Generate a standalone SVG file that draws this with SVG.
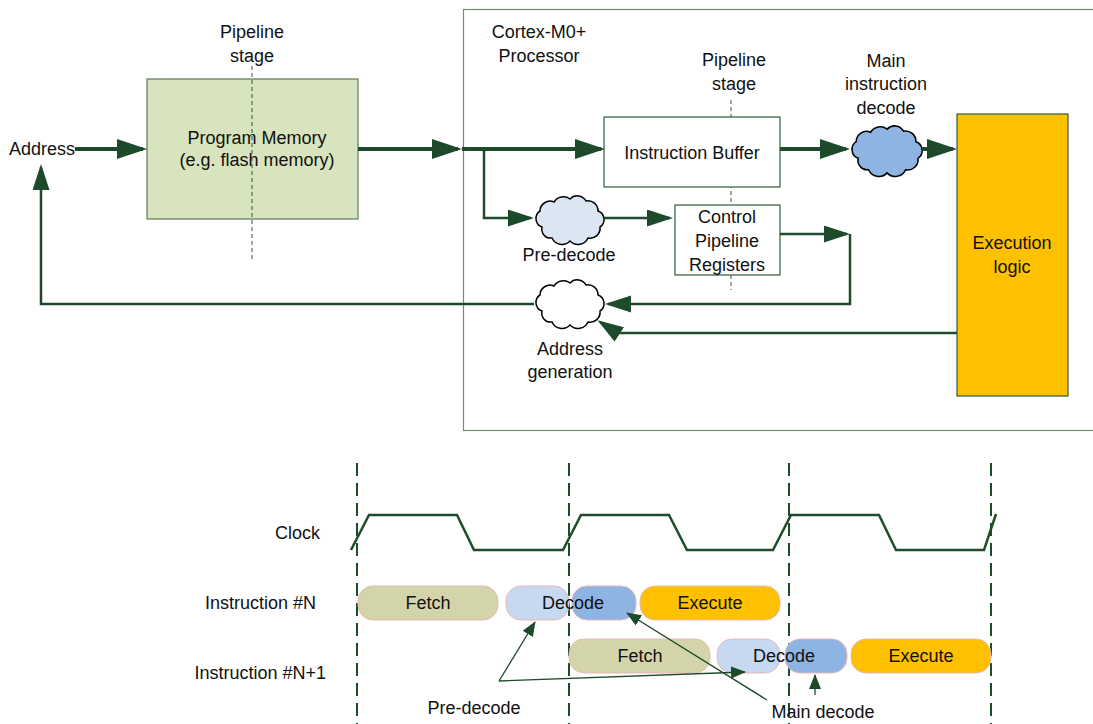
<svg xmlns="http://www.w3.org/2000/svg" width="1093" height="724" viewBox="0 0 1093 724">
<style>
text{font-family:"Liberation Sans",Arial,sans-serif;font-size:18px;fill:#111}
.m{text-anchor:middle}
.e{text-anchor:end}
.thick{stroke:#1c4a2a;stroke-width:4;fill:none}
.med{stroke:#1c4a2a;stroke-width:2.5;fill:none}
.thin{stroke:#1c4a2a;stroke-width:1.3;fill:none}
.dash{stroke:#2b5b3a;stroke-width:1;stroke-dasharray:4 3;fill:none}
.vdash{stroke:#1e4d2b;stroke-width:2;stroke-dasharray:13 7;fill:none}
.box{stroke:#2d5c3a;stroke-width:1.2}
.cloud{stroke:#000;stroke-width:1.5}
.pill{stroke:#e6b9b8;stroke-width:1}
</style>
<defs>
<marker id="big" markerUnits="userSpaceOnUse" markerWidth="32" markerHeight="22" refX="26" refY="10" orient="auto"><path d="M0,0 L30,10 L0,20 Z" fill="#1c4a2a"/></marker>
<marker id="mid" markerUnits="userSpaceOnUse" markerWidth="28" markerHeight="20" refX="23" refY="8.5" orient="auto"><path d="M0,0 L26,8.5 L0,17 Z" fill="#1c4a2a"/></marker>
<marker id="sm" markerUnits="userSpaceOnUse" markerWidth="16" markerHeight="14" refX="14" refY="6" orient="auto"><path d="M0,0 L15,6 L0,12 Z" fill="#1c4a2a"/></marker>
<path id="cloudShape" d="M8,32 A9,9 0 0 1 6,16 A10,10 0 0 1 20,7 A11,11 0 0 1 36,4 A10,10 0 0 1 52,6 A10,10 0 0 1 64,16 A9,9 0 0 1 66,32 A10,10 0 0 1 54,43 A11,11 0 0 1 36,46 A11,11 0 0 1 18,43 A9,9 0 0 1 8,32 Z"/>
</defs>

<g id="cortex-frame"><rect x="463.5" y="9.5" width="640" height="421" fill="none" stroke="#6f8f73" stroke-width="1.2"/>
<text class="m" x="539" y="38">Cortex-M0+</text><text class="m" x="539" y="62">Processor</text></g>

<g id="pipeline-stage-1"><text class="m" x="252" y="38">Pipeline</text><text class="m" x="252" y="62">stage</text></g>
<g id="pipeline-stage-2"><text class="m" x="734" y="66">Pipeline</text><text class="m" x="734" y="90">stage</text><line class="dash" x1="731" y1="100" x2="731" y2="290"/></g>

<g id="program-memory"><rect x="147" y="79" width="211" height="140" fill="#d7e4bd" stroke="#5d7a55" stroke-width="1.2"/>
<text class="m" x="257" y="144">Program Memory</text><text class="m" x="257" y="166">(e.g. flash memory)</text>
<line class="dash" x1="252" y1="66" x2="252" y2="262"/></g>

<g id="address-label"><text x="9" y="155">Address</text></g>

<g id="instruction-buffer"><rect x="604" y="117" width="176" height="70" fill="#fff" class="box"/><text class="m" x="692" y="159">Instruction Buffer</text></g>

<g id="control-pipeline-registers"><rect x="675" y="205" width="105" height="70" fill="#fff" class="box"/>
<text class="m" x="727" y="223">Control</text><text class="m" x="727" y="247">Pipeline</text><text class="m" x="727" y="271">Registers</text></g>

<g id="main-decode"><use href="#cloudShape" transform="translate(850,125) scale(1.03,1.04)" fill="#8eb4e3" class="cloud"/>
<text class="m" x="886" y="67">Main</text><text class="m" x="886" y="90">instruction</text><text class="m" x="886" y="114">decode</text></g>

<g id="pre-decode"><use href="#cloudShape" transform="translate(534,195)" fill="#dce6f2" class="cloud"/><text class="m" x="569" y="261">Pre-decode</text></g>

<g id="address-generation"><use href="#cloudShape" transform="translate(534,279)" fill="#fff" class="cloud"/>
<text class="m" x="570" y="355">Address</text><text class="m" x="570" y="378">generation</text></g>

<g id="execution-logic"><rect x="957" y="114" width="111" height="282" fill="#ffc000" class="box"/>
<text class="m" x="1012" y="249">Execution</text><text class="m" x="1012" y="273">logic</text></g>

<g id="connectors">
<line class="thick" x1="75" y1="149" x2="143" y2="149" marker-end="url(#big)"/>
<line class="thick" x1="358" y1="149" x2="458" y2="149" marker-end="url(#big)"/>
<line class="thick" x1="462" y1="149" x2="601" y2="149" marker-end="url(#big)"/>
<polyline class="med" points="484,149 484,218 531,218" marker-end="url(#mid)"/>
<line class="med" x1="604" y1="218" x2="670" y2="218" marker-end="url(#mid)"/>
<line class="thick" x1="780" y1="149" x2="846" y2="149" marker-end="url(#big)"/>
<line class="thick" x1="922" y1="149" x2="953" y2="149" marker-end="url(#big)"/>
<line class="med" x1="780" y1="234" x2="847" y2="234" marker-end="url(#mid)"/>
<polyline class="med" points="850,234 850,304 608,304" marker-end="url(#mid)"/>
<polyline class="med" points="957,333 617,333 600,322" marker-end="url(#mid)"/>
<polyline class="med" points="534,304 41,304 41,167" marker-end="url(#mid)"/>
</g>

<g id="timing-grid">
<line class="vdash" x1="357" y1="463" x2="357" y2="724"/>
<line class="vdash" x1="569" y1="463" x2="569" y2="724"/>
<line class="vdash" x1="789" y1="463" x2="789" y2="724"/>
<line class="vdash" x1="991" y1="463" x2="991" y2="724"/>
</g>

<g id="clock"><text class="e" x="320" y="539">Clock</text>
<polyline points="351,550 369,515 457,515 474,550 563,550 581,515 669,515 687,550 773,550 791,515 879,515 896,550 984,550 996,514" fill="none" stroke="#1e4d2b" stroke-width="2.5"/></g>

<g id="instruction-n"><text class="e" x="316" y="609">Instruction #N</text>
<rect class="pill" x="358" y="586" width="140" height="34" rx="15" fill="#d4d4aa"/>
<rect class="pill" x="506" y="586" width="63" height="34" rx="15" fill="#c6d9f0"/>
<rect class="pill" x="572" y="586" width="64" height="34" rx="15" fill="#8eb4e3"/>
<rect class="pill" x="640" y="586" width="140" height="34" rx="15" fill="#ffc000"/>
<text class="m" x="428" y="609">Fetch</text><text class="m" x="573" y="609">Decode</text><text class="m" x="710" y="609">Execute</text></g>

<g id="instruction-n1"><text class="e" x="326" y="679">Instruction #N+1</text>
<rect class="pill" x="569" y="639" width="141" height="34" rx="15" fill="#d4d4aa"/>
<rect class="pill" x="717" y="639" width="63" height="34" rx="15" fill="#c6d9f0"/>
<rect class="pill" x="785" y="639" width="62" height="34" rx="15" fill="#8eb4e3"/>
<rect class="pill" x="851" y="639" width="140" height="34" rx="15" fill="#ffc000"/>
<text class="m" x="640" y="662">Fetch</text><text class="m" x="784" y="662">Decode</text><text class="m" x="921" y="662">Execute</text></g>

<g id="timing-annotations">
<text class="m" x="474" y="714">Pre-decode</text>
<text class="m" x="823" y="718">Main decode</text>
<line class="thin" x1="499" y1="681" x2="535" y2="622" marker-end="url(#sm)"/>
<line class="thin" x1="499" y1="681" x2="745" y2="672" marker-end="url(#sm)"/>
<line class="thin" x1="767" y1="700" x2="627" y2="613" marker-end="url(#sm)"/>
<line class="thin" x1="815" y1="695" x2="815" y2="675" marker-end="url(#sm)"/>
</g>
</svg>
